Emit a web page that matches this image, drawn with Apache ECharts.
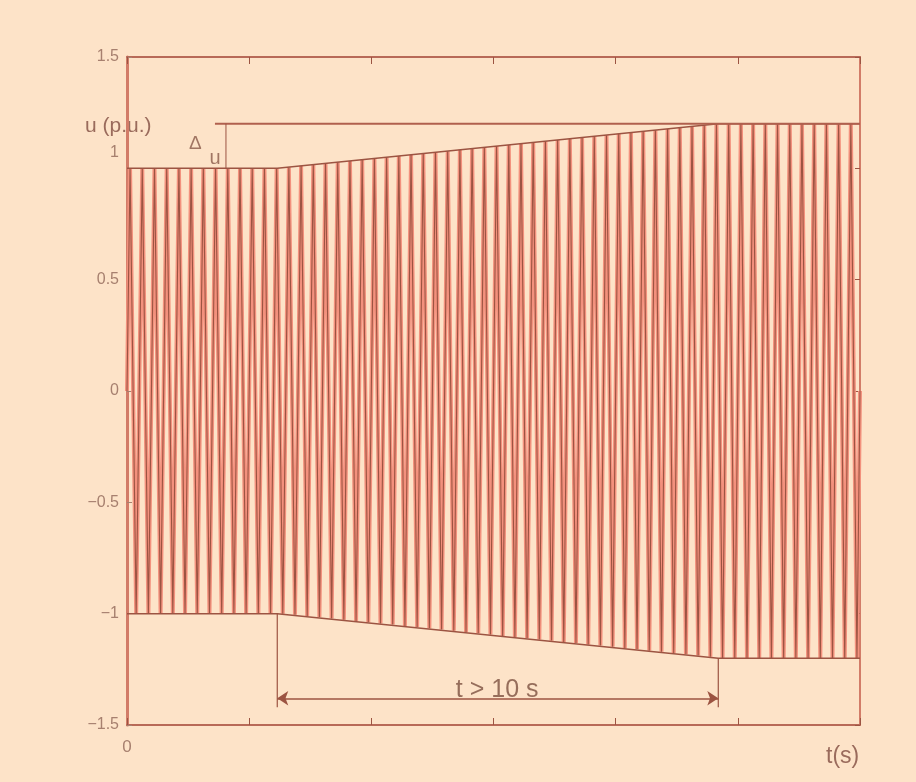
<!DOCTYPE html>
<html><head><meta charset="utf-8">
<script src="https://cdn.jsdelivr.net/npm/echarts@6/dist/echarts.min.js"></script>
<style>html,body{margin:0;padding:0;background:#fde3c8;}#c{width:916px;height:782px;}</style>
</head><body><div id="c"></div>
<script>
// amplitude of each of the 60 visible cycles (read from the envelope)
const cycleAmplitude = [
  1.000,1.000,1.000,1.000,1.000,1.000,1.000,1.000,1.000,1.000,
  1.000,1.000,1.000,1.005,1.011,1.016,1.022,1.027,1.033,1.038,
  1.044,1.049,1.055,1.060,1.066,1.071,1.077,1.083,1.088,1.094,
  1.100,1.105,1.110,1.116,1.121,1.127,1.132,1.138,1.143,1.149,
  1.155,1.160,1.166,1.171,1.177,1.182,1.188,1.193,1.199,1.200,
  1.200,1.200,1.200,1.200,1.200,1.200,1.200,1.200,1.200,1.200
];
const cyclePeriod = 0.1;             // one cycle = 1/10 of an axis division
const envelopeTimes = [0, 1.23, 4.84, 6];
const envelopeUpper = [1, 1, 1.2, 1.2];
const envelopeLower = [-1, -1, -1.2, -1.2];
const deltaURefLine = [[0.72, 1.2], [6, 1.2]];
const deltaUMarker = [[0.81, 1.0], [0.81, 1.2]];
const rampStartMarker = [[1.23, -1.0], [1.23, -1.42]];
const rampEndMarker = [[4.84, -1.2], [4.84, -1.42]];
const arrowLevel = -1.38;
const yTicks = [-1.5, -1, -0.5, 0, 0.5, 1, 1.5];
const xTickLabels = ['0', '', '', '', '', '', ''];

// waveform points: peak and trough of every cycle
const wave = [[0, 0]];
cycleAmplitude.forEach((a, k) => {
  wave.push([k * cyclePeriod + cyclePeriod * 0.25, a]);
  wave.push([k * cyclePeriod + cyclePeriod * 0.75, -a]);
});
wave.push([6, 0]);
const zip = (xs, ys) => xs.map((x, i) => [x, ys[i]]);

const dark = '#9c5442';
const axisCol = '#d27c68';
const labelCol = '#a7806f';
const FONT = 'Liberation Sans, Arial, sans-serif';

function lineSeries(data, color, width, z) {
  return { type: 'line', data: data, showSymbol: false, silent: true, z: z || 3,
    lineStyle: { color: color, width: width }, animation: false };
}
function textSeries(pt, text, size, color) {
  return { type: 'scatter', data: [pt], symbolSize: 1, z: 10, silent: true,
    itemStyle: { color: 'transparent' },
    label: { show: true, position: 'inside', formatter: text, fontSize: size,
      color: color, fontFamily: FONT } };
}

const chart = echarts.init(document.getElementById('c'));
chart.setOption({
  animation: false,
  backgroundColor: '#fde3c8',
  grid: { left: 127, right: 56, top: 57, bottom: 57 },
  xAxis: [
    { type: 'value', min: 0, max: 6, interval: 1, position: 'bottom',
      axisLine: { show: true, onZero: false, lineStyle: { color: '#b86a58', width: 2 } },
      axisTick: { show: true, inside: true, length: 7, lineStyle: { color: dark } },
      axisLabel: { margin: 14, fontSize: 17, color: labelCol, fontFamily: FONT,
        formatter: (v) => xTickLabels[Math.round(v)] },
      splitLine: { show: false } },
    { type: 'value', min: 0, max: 6, interval: 1, position: 'top',
      axisLine: { show: true, onZero: false, lineStyle: { color: '#b86a58', width: 2 } },
      axisTick: { show: true, inside: true, length: 7, lineStyle: { color: dark } },
      axisLabel: { show: false }, splitLine: { show: false } }
  ],
  yAxis: [
    { type: 'value', min: yTicks[0], max: yTicks[yTicks.length - 1], interval: 0.5, position: 'left',
      axisLine: { show: true, onZero: false, lineStyle: { color: axisCol, width: 3 } },
      axisTick: { show: true, inside: true, length: 5, lineStyle: { color: labelCol } },
      axisLabel: { margin: 8, fontSize: 16, color: labelCol, fontFamily: FONT,
        formatter: (v) => v === 1 ? '{up|1}' : (v < 0 ? '\u2212' + Math.abs(v) : String(v)),
        rich: { up: { padding: [0, 0, 32, 0], fontSize: 16, color: labelCol, fontFamily: FONT } } },
      splitLine: { show: false } },
    { type: 'value', min: yTicks[0], max: yTicks[yTicks.length - 1], interval: 0.5, position: 'right',
      axisLine: { show: true, onZero: false, lineStyle: { color: axisCol, width: 2 } },
      axisTick: { show: true, inside: true, length: 5, lineStyle: { color: dark } },
      axisLabel: { show: false }, splitLine: { show: false } }
  ],
  series: [
    lineSeries(wave, '#f3917d', 4, 2),
    lineSeries(wave, dark, 1.1, 3),
    lineSeries(zip(envelopeTimes, envelopeUpper), dark, 1.5, 4),
    lineSeries(zip(envelopeTimes, envelopeLower), dark, 1.5, 4),
    lineSeries(deltaURefLine, '#b0604e', 2, 4),
    lineSeries(deltaUMarker, dark, 1, 4),
    lineSeries(rampStartMarker, dark, 1.2, 4),
    lineSeries(rampEndMarker, dark, 1.2, 4),
    { type: 'line', data: [], silent: true,
      markLine: { silent: true, symbol: ['arrow', 'arrow'], symbolSize: 11, animation: false,
        label: { show: false },
        lineStyle: { color: dark, width: 1.5, type: 'solid' },
        data: [[{ coord: [rampStartMarker[0][0], arrowLevel] }, { coord: [rampEndMarker[0][0], arrowLevel] }]] } },
    textSeries([3.03, -1.345], 't > 10 s', 25, '#7c5040'),
    textSeries([0.56, 1.11], '\u0394', 19, '#8a5a4a'),
    textSeries([0.72, 1.045], 'u', 20, '#8a5a4a')
  ],
  graphic: [
    { type: 'text', left: 85, top: 116, silent: true,
      style: { text: 'u (p.u.)', fontSize: 21, fill: '#9a6b5c', fontFamily: FONT } },
    { type: 'text', left: 826, top: 745, silent: true,
      style: { text: 't(s)', fontSize: 23, fill: '#9a6b5c', fontFamily: FONT } }
  ]
});
</script></body></html>
